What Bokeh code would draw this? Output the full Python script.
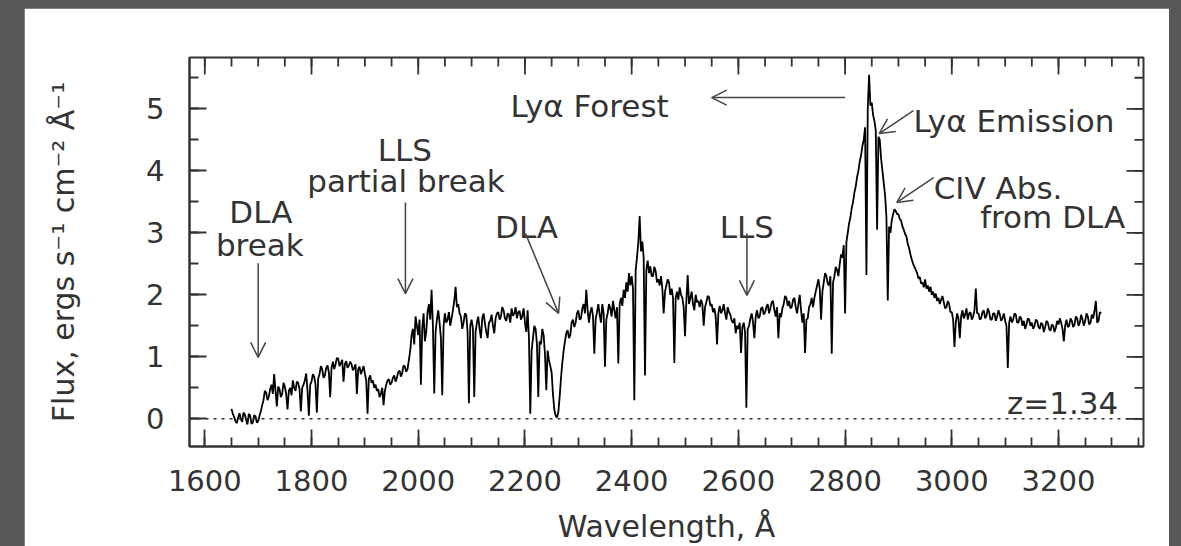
import numpy as np
from bokeh.plotting import figure
from bokeh.models import (FixedTicker, Span, Arrow, OpenHead, Range1d,
                          Spacer, ColumnDataSource)
from bokeh.layouts import row, column
from bokeh.core.properties import value
from bokeh.embed import file_html
from bokeh.resources import INLINE

# ---------------- data ----------------
wave_start, wave_stop, wave_step = 1650, 3281, 2.5
flux = [
    0.16, 0.08, 0.03, -0.04, -0.07, 0.02, 0.09, 0.00, -0.05, 0.10, 0.07, -0.02, -0.09, 0.08, 0.05, -0.08, -0.06, 0.06, 0.04, -0.06,  # 1650
    -0.04, 0.05, 0.12, 0.22, 0.30, 0.45, 0.42, 0.30, 0.36, 0.48, 0.55, 0.40, 0.72, 0.45, 0.20, 0.52, 0.48, 0.35, 0.40, 0.58,      # 1700
    0.52, 0.40, 0.15, 0.45, 0.50, 0.38, 0.62, 0.50, 0.45, 0.60, 0.58, 0.48, 0.12, 0.50, 0.55, 0.62, 0.73, 0.45, 0.05, 0.55,       # 1750
    0.60, 0.72, 0.68, 0.55, 0.10, 0.65, 0.72, 0.85, 0.80, 0.66, 0.70, 0.82, 0.86, 0.75, 0.35, 0.82, 0.92, 0.80, 0.88, 0.98,       # 1800
    0.97, 0.85, 0.90, 0.95, 0.60, 0.88, 0.93, 0.82, 0.86, 0.92, 0.88, 0.78, 0.82, 0.88, 0.40, 0.80, 0.84, 0.72, 0.78, 0.85,       # 1850
    0.73, 0.62, 0.08, 0.65, 0.70, 0.58, 0.62, 0.50, 0.55, 0.45, 0.48, 0.35, 0.40, 0.50, 0.22, 0.45, 0.55, 0.62, 0.64, 0.55,       # 1900
    0.58, 0.66, 0.70, 0.60, 0.66, 0.75, 0.78, 0.68, 0.74, 0.86, 0.84, 0.76, 0.80, 0.95, 1.10, 1.35, 1.45, 1.20, 1.65, 1.50,       # 1950
    1.35, 1.60, 0.55, 1.45, 1.70, 1.25, 1.40, 1.72, 1.85, 1.60, 2.08, 1.50, 0.41, 1.40, 1.60, 1.75, 1.55, 1.30, 0.38, 1.50,       # 2000
    1.70, 1.55, 1.60, 1.72, 1.50, 1.62, 1.75, 1.90, 2.13, 1.80, 1.85, 1.70, 1.65, 1.45, 1.55, 1.70, 1.68, 1.40, 0.25, 1.50,       # 2050
    1.60, 1.45, 0.35, 1.40, 1.55, 1.65, 1.45, 1.30, 1.62, 1.70, 1.54, 1.40, 1.30, 1.55, 1.58, 1.68, 1.50, 1.38, 1.62, 1.70,       # 2100
    1.72, 1.60, 1.65, 1.80, 1.75, 1.62, 1.58, 1.70, 1.68, 1.55, 1.78, 1.66, 1.70, 1.80, 1.62, 1.72, 1.74, 1.60, 1.66, 1.78,       # 2150
    1.55, 1.40, 1.75, 1.30, 0.08, 1.10, 1.30, 1.50, 1.45, 1.20, 0.35, 1.25, 1.20, 1.45, 1.35, 1.05, 0.46, 1.10, 0.95, 0.85,       # 2200
    0.75, 0.40, 0.15, 0.05, 0.02, 0.10, 0.35, 0.65, 0.90, 1.10, 1.25, 1.38, 1.43, 1.30, 1.35, 1.55, 1.60, 1.48, 1.55, 1.70,       # 2250
    1.75, 1.60, 1.62, 1.78, 1.85, 1.70, 2.08, 1.75, 1.55, 1.72, 1.80, 1.65, 1.05, 1.60, 1.72, 1.85, 1.68, 1.55, 1.85, 1.70,       # 2300
    0.84, 1.60, 1.70, 1.85, 1.78, 1.65, 1.90, 1.75, 1.62, 1.80, 0.89, 1.85, 1.95, 1.82, 2.08, 1.95, 2.20, 2.05, 2.35, 2.15,       # 2350
    2.30, 2.10, 0.30, 2.40, 2.60, 2.85, 3.27, 2.70, 2.86, 2.60, 0.70, 2.40, 2.55, 2.35, 2.46, 2.30, 2.30, 2.45, 2.38, 2.20,       # 2400
    2.25, 2.15, 2.30, 2.10, 1.70, 2.05, 2.15, 2.25, 2.20, 2.00, 2.10, 1.95, 0.90, 1.95, 2.05, 1.92, 2.12, 2.00, 1.95, 1.80,       # 2450
    1.33, 1.90, 2.32, 1.85, 1.95, 2.05, 1.85, 1.75, 2.00, 1.88, 1.90, 1.80, 1.92, 1.85, 1.50, 1.80, 1.88, 1.98, 1.96, 1.82,       # 2500
    1.85, 1.72, 1.78, 1.65, 1.20, 1.70, 1.82, 1.70, 1.75, 1.85, 1.70, 1.60, 1.80, 1.72, 1.68, 1.58, 1.55, 1.62, 1.38, 1.50,       # 2550
    1.45, 1.55, 1.06, 1.48, 1.55, 1.40, 0.18, 1.45, 1.50, 1.62, 1.70, 1.55, 1.30, 1.65, 1.75, 1.62, 1.65, 1.78, 1.80, 1.68,       # 2600
    1.72, 1.80, 1.85, 1.70, 1.78, 1.88, 1.90, 1.75, 1.65, 1.80, 1.30, 1.70, 1.64, 1.78, 1.85, 1.98, 1.95, 1.82, 1.90, 1.78,       # 2650
    1.80, 1.92, 1.95, 1.80, 1.70, 1.85, 2.00, 1.75, 1.55, 1.70, 1.06, 1.60, 1.62, 1.80, 1.85, 1.95, 1.80, 1.95, 2.05, 2.15,       # 2700
    2.25, 2.10, 1.60, 2.05, 2.20, 2.35, 2.30, 2.18, 2.15, 2.30, 1.05, 2.20, 2.30, 2.45, 2.40, 2.30, 2.50, 2.65, 2.60, 2.80,       # 2750
    1.70, 2.85, 3.00, 3.15, 3.25, 3.40, 3.50, 3.65, 3.75, 3.90, 4.00, 4.15, 4.25, 4.40, 4.50, 4.70, 2.32, 5.00, 5.55, 5.05,       # 2800
    5.10, 4.90, 4.80, 4.65, 3.05, 4.55, 4.50, 4.20, 4.00, 3.80, 3.60, 3.25, 1.91, 3.10, 3.00, 3.20, 3.30, 3.38, 3.35, 3.30,       # 2850
    3.30, 3.22, 3.20, 3.10, 3.05, 2.98, 2.94, 2.82, 2.75, 2.65, 2.57, 2.50, 2.45, 2.40, 2.35, 2.26, 2.29, 2.18, 2.20, 2.12,       # 2900
    2.25, 2.10, 2.15, 2.05, 2.13, 2.00, 2.05, 1.95, 2.02, 1.90, 1.95, 1.85, 1.92, 1.98, 1.88, 1.78, 1.80, 1.90, 1.85, 1.72,       # 2950
    1.72, 1.60, 1.16, 1.55, 1.70, 1.62, 1.30, 1.65, 1.75, 1.62, 1.68, 1.78, 1.60, 1.70, 1.72, 1.60, 1.65, 1.75, 2.10, 1.70,       # 3000
    1.70, 1.60, 1.62, 1.72, 1.75, 1.62, 1.66, 1.78, 1.72, 1.60, 1.60, 1.70, 1.70, 1.58, 1.65, 1.75, 1.68, 1.58, 1.62, 1.70,       # 3050
    1.58, 1.50, 0.82, 1.55, 1.65, 1.55, 1.60, 1.70, 1.68, 1.55, 1.55, 1.65, 1.62, 1.50, 1.58, 1.45, 1.52, 1.62, 1.60, 1.50,       # 3100
    1.55, 1.45, 1.50, 1.60, 1.58, 1.48, 1.45, 1.55, 1.52, 1.40, 1.48, 1.58, 1.55, 1.45, 1.42, 1.52, 1.50, 1.40, 1.47, 1.58,       # 3150
    1.52, 1.62, 1.55, 1.45, 1.25, 1.50, 1.60, 1.48, 1.50, 1.62, 1.58, 1.48, 1.52, 1.65, 1.62, 1.50, 1.55, 1.68, 1.60, 1.50,       # 3200
    1.58, 1.70, 1.65, 1.52, 1.55, 1.68, 1.62, 1.75, 1.90, 1.55, 1.58, 1.72, 1.70,                                                 # 3250
]
wavelength = np.arange(wave_start, wave_stop, wave_step)[:len(flux)]

x_major_ticks = [1600, 1800, 2000, 2200, 2400, 2600, 2800, 3000, 3200]
x_minor_ticks = list(range(1600, 3351, 50))
y_major_ticks = [0, 1, 2, 3, 4, 5]
y_minor_ticks = [-0.5, 0, 0.5, 1, 1.5, 2, 2.5, 3, 3.5, 4, 4.5, 5, 5.5]

# annotation texts
ann_text = ["Lyα Forest", "Lyα Emission", "CIV Abs.", "from DLA", "z=1.34",
            "DLA", "break", "LLS", "partial break", "DLA", "LLS"]
ann_x = [2173, 2928, 2966, 3325, 3312, 1705, 1703, 1975, 1977, 2203, 2616]
ann_y = [5.04, 4.81, 3.73, 3.25, 0.25, 3.33, 2.81, 4.33, 3.83, 3.09, 3.09]
ann_align = ["left", "left", "left", "right", "right",
             "center", "center", "center", "center", "center", "center"]

# arrows (tail -> head)
arr_x0 = [2800, 2928, 2966, 1700, 1976, 2201, 2616]
arr_y0 = [5.18, 4.97, 3.89, 2.51, 3.49, 2.99, 2.99]
arr_x1 = [2550, 2864, 2897, 1700, 1976, 2263, 2616]
arr_y1 = [5.18, 4.60, 3.49, 0.99, 2.02, 1.70, 1.99]

# ---------------- figure ----------------
INK = "#333333"
FONT = "DejaVu Sans"

x_lo, x_hi = 1571.3, 3359.3
y_lo, y_hi = -0.447, 5.827

p = figure(width=1145, height=538,
           x_range=Range1d(x_lo, x_hi), y_range=Range1d(y_lo, y_hi),
           output_backend="svg", toolbar_location=None,
           min_border_left=165, min_border_right=26,
           min_border_top=49, min_border_bottom=100,
           background_fill_color="white", border_fill_color="white",
           outline_line_color=INK, outline_line_width=2,
           x_axis_label="Wavelength, Å",
           y_axis_label="Flux, ergs s⁻¹ cm⁻² Å⁻¹")
p.grid.visible = False

p.xaxis.ticker = FixedTicker(ticks=x_major_ticks, minor_ticks=x_minor_ticks)
p.yaxis.ticker = FixedTicker(ticks=y_major_ticks, minor_ticks=y_minor_ticks)

for ax in p.axis:
    ax.axis_line_color = INK
    ax.axis_line_width = 2
    ax.major_tick_line_color = INK
    ax.major_tick_line_width = 1.8
    ax.minor_tick_line_color = INK
    ax.minor_tick_line_width = 1.8
    ax.major_tick_in = 17
    ax.major_tick_out = 0
    ax.minor_tick_in = 9
    ax.minor_tick_out = 0
    ax.major_label_text_font = FONT
    ax.major_label_text_color = INK
    ax.major_label_text_font_size = "29px"
    ax.axis_label_text_font = FONT
    ax.axis_label_text_color = INK
    ax.axis_label_text_font_size = "30px"
    ax.axis_label_text_font_style = "normal"

p.xaxis[0].major_label_standoff = 23
p.xaxis[0].axis_label_standoff = 15
p.yaxis[0].major_label_standoff = 25
p.yaxis[0].axis_label_standoff = 62

# ticks on the top and right frame edges (no labels)
tick_style = dict(line_color=INK, line_width=1.8, length_units="screen")
p.ray(x=x_major_ticks, y=y_hi, length=17, angle=-np.pi / 2, **tick_style)
p.ray(x=x_minor_ticks, y=y_hi, length=9, angle=-np.pi / 2, **tick_style)
p.ray(x=x_hi, y=y_major_ticks, length=17, angle=np.pi, **tick_style)
p.ray(x=x_hi, y=y_minor_ticks, length=9, angle=np.pi, **tick_style)

# zero line
p.add_layout(Span(location=0, dimension="width", line_color=INK,
                  line_width=1.5, line_dash="3 5"))

# spectrum
p.line(wavelength, flux, line_color="black", line_width=1.8)

# arrows
arr_src = ColumnDataSource(dict(x0=arr_x0, y0=arr_y0, x1=arr_x1, y1=arr_y1))
p.add_layout(Arrow(x_start="x0", y_start="y0", x_end="x1", y_end="y1",
                   source=arr_src, line_color="#444444", line_width=1.5,
                   end=OpenHead(size=15, line_color="#444444", line_width=1.5)))

# annotation texts
ann_src = ColumnDataSource(dict(x=ann_x, y=ann_y, text=ann_text, align=ann_align))
p.text(x="x", y="y", text="text", source=ann_src, text_align="align",
       text_baseline="alphabetic", text_font=value(FONT),
       text_font_size="31px", text_color=INK)

layout = column(Spacer(width=1169, height=8),
                row(Spacer(width=24, height=538), p))

html = file_html(layout, INLINE, title="Quasar spectrum z=1.34")
html = html.replace("</head>",
                    "<style>html, body {background-color: #585858;}</style></head>", 1)
open("out.html", "w").write(html)
